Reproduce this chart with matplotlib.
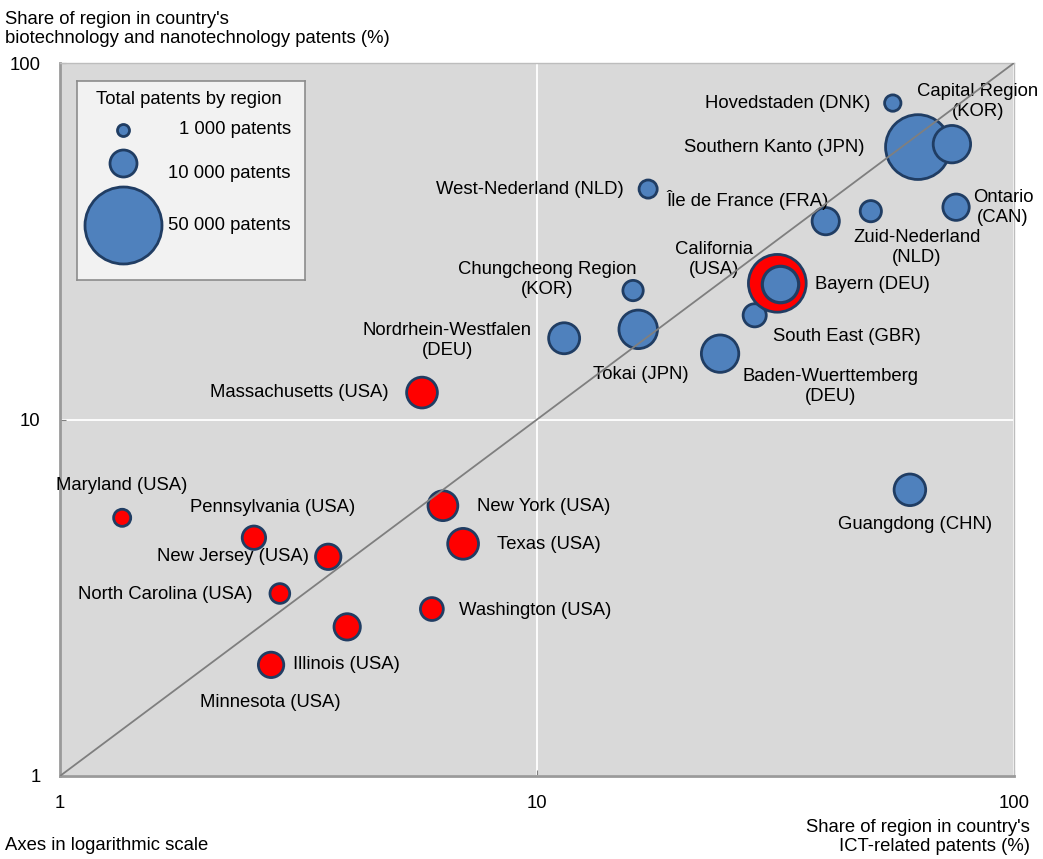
import matplotlib.pyplot as plt
import numpy as np

plt.rcParams['font.family'] = ['Liberation Sans', 'DejaVu Sans']

# regions outside the US (blue bubbles)
other_names = ["Hovedstaden (DNK)", "Southern Kanto (JPN)", "Capital Region\n(KOR)",
               "West-Nederland (NLD)", "Île de France (FRA)", "Zuid-Nederland\n(NLD)",
               "Ontario\n(CAN)", "Chungcheong Region\n(KOR)", "South East (GBR)",
               "Nordrhein-Westfalen\n(DEU)", "Tokai (JPN)", "Baden-Wuerttemberg\n(DEU)",
               "Guangdong (CHN)"]
other_ict = [55.7, 62.9, 74.1, 17.1, 40.3, 50.1, 75.6, 15.9, 28.6, 11.4, 16.3, 24.2, 60.5]
other_bio = [77.2, 58.1, 59.2, 44.3, 36.0, 38.4, 39.4, 23.0, 19.6, 16.9, 17.9, 15.3, 6.35]
other_patents = [2200, 34500, 11500, 2700, 6100, 3700, 5700, 3400, 4400, 7900, 12200, 11500, 8200]

# US states (red bubbles)
us_names = ["California\n(USA)", "Massachusetts (USA)", "Maryland (USA)", "Pennsylvania (USA)",
            "New Jersey (USA)", "North Carolina (USA)", "New York (USA)", "Texas (USA)",
            "Washington (USA)", "Minnesota (USA)", "Illinois (USA)"]
us_ict = [31.9, 5.74, 1.35, 2.55, 3.65, 2.89, 6.35, 7.0, 6.02, 4.0, 2.77]
us_bio = [24.1, 11.9, 5.3, 4.66, 4.12, 3.25, 5.73, 4.48, 2.94, 2.62, 2.05]
us_patents = [27400, 7800, 2400, 4500, 5300, 3200, 7300, 7800, 4300, 5700, 5300]

# Bayern sits on top of California, drawn last
bayern = ("Bayern (DEU)", 32.3, 24.0, 10900)

legend_labels = ["1 000 patents", "10 000 patents", "50 000 patents"]

# label placement: offset in pixels from the bubble centre, alignment
label_pos = {
    "Hovedstaden (DNK)": (-22, 0, 'right'),
    "Southern Kanto (JPN)": (-53, 0, 'right'),
    "Capital Region\n(KOR)": (26, 43, 'center'),
    "West-Nederland (NLD)": (-24, 0, 'right'),
    "Île de France (FRA)": (-78, 21, 'center'),
    "Zuid-Nederland\n(NLD)": (46, -36, 'center'),
    "Ontario\n(CAN)": (47, 0, 'center'),
    "Chungcheong Region\n(KOR)": (-86, 11, 'center'),
    "South East (GBR)": (18, -21, 'left'),
    "Nordrhein-Westfalen\n(DEU)": (-117, -2, 'center'),
    "Tokai (JPN)": (3, -45, 'center'),
    "Baden-Wuerttemberg\n(DEU)": (110, -33, 'center'),
    "Guangdong (CHN)": (5, -35, 'center'),
    "California\n(USA)": (-63, 24, 'center'),
    "Massachusetts (USA)": (-33, 0, 'right'),
    "Maryland (USA)": (0, 32, 'center'),
    "Pennsylvania (USA)": (19, 30, 'center'),
    "New Jersey (USA)": (-19, 0, 'right'),
    "North Carolina (USA)": (-27, -1, 'right'),
    "New York (USA)": (34, -1, 'left'),
    "Texas (USA)": (34, -1, 'left'),
    "Washington (USA)": (27, -1, 'left'),
    "Minnesota (USA)": (-77, -76, 'center'),
    "Illinois (USA)": (22, 0, 'left'),
    "Bayern (DEU)": (35, -1, 'left'),
}

BLUE = '#4F81BD'
RED = '#FF0000'
EDGE = '#203D63'
FS = 13.3


def bubble_size(p):
    # diameter in pixels grows with sqrt of patents, 50 000 -> 78 px
    d = 78 * np.sqrt(np.asarray(p, dtype=float) / 50000)
    return (d * 0.72) ** 2


fig = plt.figure(figsize=(10.43, 8.59), dpi=100)
ax = fig.add_axes([60 / 1043, 1 - 776 / 859, 954 / 1043, 713 / 859])
ax.set_facecolor('#D9D9D9')
ax.set_xscale('log')
ax.set_yscale('log')
ax.set_xlim(1, 100)
ax.set_ylim(1, 100)

ax.set_xticks([1, 10, 100])
ax.set_yticks([1, 10, 100])
ax.set_xticklabels(['1', '10', '100'])
ax.set_yticklabels(['1', '10', '100'])
ax.minorticks_off()
ax.tick_params(axis='both', direction='in', length=4, color='#808080', labelsize=FS)
ax.tick_params(axis='y', pad=14)
ax.tick_params(axis='x', pad=14)
ax.grid(True, color='white', lw=1.3)
ax.set_axisbelow(True)

for side in ['left', 'bottom']:
    ax.spines[side].set_color('#9A9A9A')
    ax.spines[side].set_linewidth(2)
for side in ['top', 'right']:
    ax.spines[side].set_color('#BDBDBD')
    ax.spines[side].set_linewidth(1)

ax.plot([1, 100], [1, 100], color='#7F7F7F', lw=1.3, zorder=6)

ax.scatter(other_ict, other_bio, s=bubble_size(other_patents), color=BLUE,
           edgecolors=EDGE, linewidths=2.0, zorder=3)
ax.scatter(us_ict, us_bio, s=bubble_size(us_patents), color=RED,
           edgecolors=EDGE, linewidths=2.0, zorder=3)
ax.scatter([bayern[1]], [bayern[2]], s=bubble_size([bayern[3]]), color=BLUE,
           edgecolors=EDGE, linewidths=2.3, zorder=4)

all_names = other_names + us_names + [bayern[0]]
all_x = other_ict + us_ict + [bayern[1]]
all_y = other_bio + us_bio + [bayern[2]]
for name, x, y in zip(all_names, all_x, all_y):
    dx, dy, ha = label_pos[name]
    ax.annotate(name, (x, y), xytext=(dx, dy), textcoords='offset pixels',
                ha=ha, va='center', fontsize=FS, color='black',
                linespacing=1.22, zorder=5)

# bubble legend box
lax = fig.add_axes([77 / 1043, 1 - 280 / 859, 228 / 1043, 199 / 859])
lax.set_xlim(0, 228)
lax.set_ylim(199, 0)
lax.set_facecolor('#F2F2F2')
lax.set_xticks([])
lax.set_yticks([])
for s in lax.spines.values():
    s.set_color('#8C8C8C')
    s.set_linewidth(1.2)
lax.text(112, 19, "Total patents by region", ha='center', va='center', fontsize=FS)
leg_d = [12, 27, 77]
leg_y = [49, 82, 144]
leg_ty = [49, 92, 144]
for lab, d, yy, ty in zip(legend_labels, leg_d, leg_y, leg_ty):
    lax.scatter([46], [yy], s=(d * 0.72) ** 2, color=BLUE, edgecolors=EDGE,
                linewidths=2.0, clip_on=False)
    lax.text(214, ty, lab, ha='right', va='center', fontsize=FS)

fig.text(5 / 1043, 1 - 29 / 859,
         "Share of region in country's\nbiotechnology and nanotechnology patents (%)",
         ha='left', va='center', fontsize=FS, linespacing=1.22)
fig.text(1030 / 1043, 1 - 837 / 859,
         "Share of region in country's\nICT-related patents (%)",
         ha='right', va='center', fontsize=FS, linespacing=1.2)
fig.text(5 / 1043, 1 - 845 / 859, "Axes in logarithmic scale",
         ha='left', va='center', fontsize=FS)

fig.savefig('out.png', dpi=100)
